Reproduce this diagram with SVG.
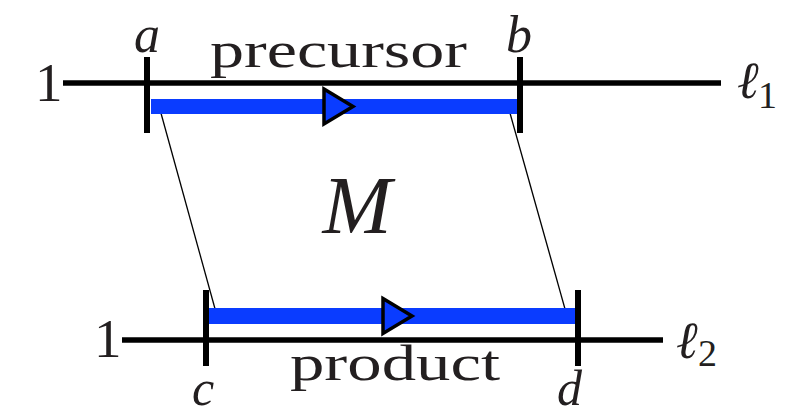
<svg xmlns="http://www.w3.org/2000/svg" width="789" height="410" viewBox="0 0 789 410">
<style>
.ln{stroke:#000;stroke-width:5.5;fill:none}
.tk{stroke:#000;stroke-width:6;fill:none}
.band{fill:#0a3cff}
.thin{stroke:#000;stroke-width:1.3;fill:none}
.tri{fill:#0a3cff;stroke:#000;stroke-width:3.5;stroke-linejoin:miter}
.t{font-family:"Liberation Serif",serif;fill:#231f20}
.i{font-style:italic}
</style>
<rect width="789" height="410" fill="#fff"/>
<g id="connectors">
<line class="thin" x1="159" y1="106" x2="217" y2="316"/>
<line class="thin" x1="508" y1="106" x2="567" y2="316"/>
</g>
<g id="line1">
<line class="ln" x1="63" y1="83" x2="721" y2="83"/>
<rect class="band" x="151" y="99" width="366" height="15"/>
<polygon class="tri" points="324,89 353,106.5 324,124"/>
<line class="tk" x1="147" y1="57" x2="147" y2="133"/>
<line class="tk" x1="520" y1="57" x2="520" y2="133"/>
<text class="t" x="35" y="101" font-size="55">1</text>
<text class="t i" x="134" y="52" font-size="52">a</text>
<text class="t i" x="506" y="52" font-size="52">b</text>
<text class="t" x="210" y="67" font-size="50" textLength="257" lengthAdjust="spacingAndGlyphs">precursor</text>
<text class="t i" x="737" y="98" font-size="52">ℓ</text>
<text class="t" x="758" y="108" font-size="38">1</text>
</g>
<g id="M">
<text class="t i" x="357" y="233" font-size="83" text-anchor="middle">M</text>
</g>
<g id="line2">
<line class="ln" x1="122" y1="340" x2="663" y2="340"/>
<rect class="band" x="208" y="308" width="369" height="16"/>
<polygon class="tri" points="383,298.5 412,316 383,333.5"/>
<line class="tk" x1="206" y1="290" x2="206" y2="366"/>
<line class="tk" x1="578" y1="290" x2="578" y2="366"/>
<text class="t" x="94" y="357" font-size="55">1</text>
<text class="t" x="290" y="380" font-size="50" textLength="210" lengthAdjust="spacingAndGlyphs">product</text>
<text class="t i" x="192" y="405" font-size="50">c</text>
<text class="t i" x="557" y="405" font-size="50">d</text>
<text class="t i" x="676" y="358" font-size="52">ℓ</text>
<text class="t" x="698" y="366" font-size="38">2</text>
</g>
</svg>
